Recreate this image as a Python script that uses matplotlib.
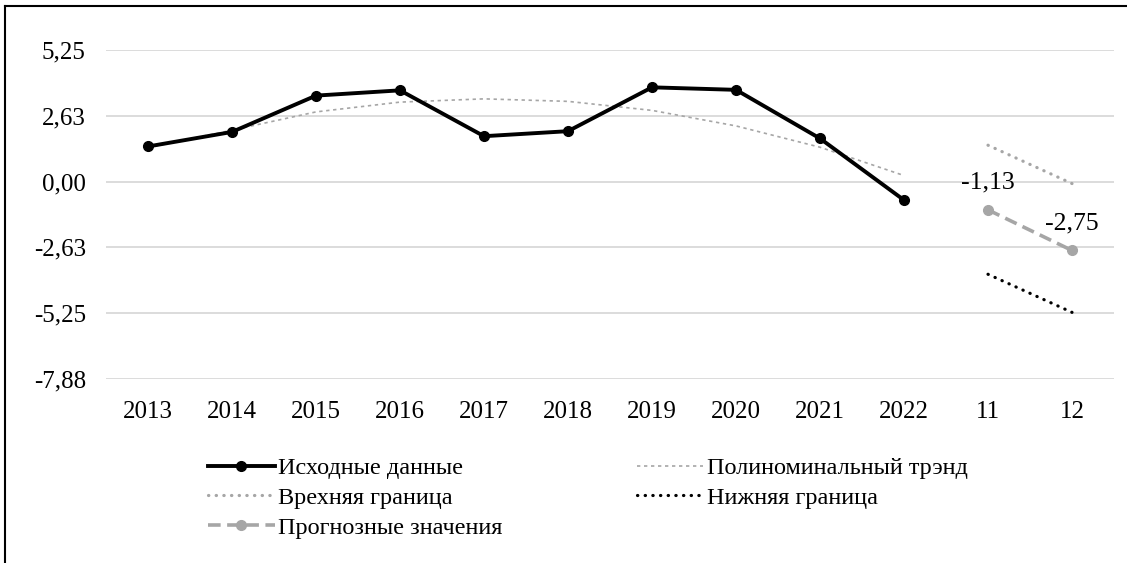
import matplotlib
matplotlib.use("Agg")
import matplotlib.pyplot as plt
from matplotlib.lines import Line2D

plt.rcParams['font.family'] = ['Liberation Serif', 'DejaVu Serif']

categories = ["2013", "2014", "2015", "2016", "2017", "2018", "2019", "2020", "2021", "2022", "11", "12"]
actual = [1.40, 1.98, 3.43, 3.64, 1.81, 2.01, 3.76, 3.66, 1.72, -0.74]
trend = [1.35, 2.05, 2.78, 3.17, 3.30, 3.20, 2.84, 2.22, 1.37, 0.24]
upper = [1.45, -0.08]
lower = [-3.70, -5.22]
forecast = [-1.13, -2.75]
forecast_labels = ["-1,13", "-2,75"]
yticks = [5.25, 2.63, 0.00, -2.63, -5.25, -7.88]
ytick_labels = ["5,25", "2,63", "0,00", "-2,63", "-5,25", "-7,88"]
legend_labels = ["Исходные данные", "Полиноминальный трэнд", "Врехняя граница",
                 "Нижняя граница", "Прогнозные значения"]

fig = plt.figure(figsize=(11.27, 5.63), dpi=100)
ax = fig.add_axes([106/1127, 1-379/563, 1008/1127, 329/563])

x_hist = list(range(len(actual)))
x_fc = [len(actual), len(actual) + 1]

grid_c = "#d9d9d9"
for v in yticks:
    ax.axhline(v, color=grid_c, lw=1.3, zorder=0)

l_trend, = ax.plot(x_hist, trend, color="#a6a6a6", lw=1.2, linestyle=(0, (2, 2.2)), zorder=2)
l_act, = ax.plot(x_hist, actual, color="black", lw=2.8, marker="o", markersize=7, zorder=3)
l_up, = ax.plot(x_fc, upper, color="#a6a6a6", lw=2.3, linestyle=(0, (0.1, 2.3)),
                dash_capstyle="round", zorder=2)
l_low, = ax.plot(x_fc, lower, color="black", lw=2.3, linestyle=(0, (0.1, 2.3)),
                 dash_capstyle="round", zorder=2)
l_fc, = ax.plot(x_fc, forecast, color="#a6a6a6", lw=2.6, linestyle=(0, (3.5, 1.8)),
                marker="o", markersize=7, zorder=3)

for xi, yi, lab in zip(x_fc, forecast, forecast_labels):
    ax.annotate(lab, (xi, yi), xytext=(0, 19.5), textcoords="offset points",
                ha="center", va="center", fontsize=18.5)

ax.set_xlim(-0.5, len(categories) - 0.5)
ax.set_ylim(-7.88, 5.25)
ax.set_xticks(range(len(categories)))
ax.set_xticklabels(categories, fontsize=18)
ax.set_yticks(yticks)
ax.set_yticklabels(ytick_labels, fontsize=18)
ax.tick_params(length=0)
ax.tick_params(axis="y", pad=14.5)
ax.tick_params(axis="x", pad=15.5)
for s in ax.spines.values():
    s.set_visible(False)

handles = [l_act, l_up, l_fc, l_trend, l_low]
labels = [legend_labels[0], legend_labels[2], legend_labels[4], legend_labels[1], legend_labels[3]]
fig.legend(handles, labels, loc="upper left", bbox_to_anchor=(208/1127, 1-457/563),
           ncol=2, frameon=False, fontsize=17.5, handlelength=2.75, handletextpad=0.15,
           columnspacing=5.5, labelspacing=0.32, borderaxespad=0, borderpad=0)

# figure frame (left and top edges visible)
fig.add_artist(Line2D([5/1127, 5/1127], [0, 1-6/563], transform=fig.transFigure, color="black", lw=1.5))
fig.add_artist(Line2D([5/1127, 1], [1-6/563, 1-6/563], transform=fig.transFigure, color="black", lw=1.5))

fig.savefig("out.png", dpi=100)
